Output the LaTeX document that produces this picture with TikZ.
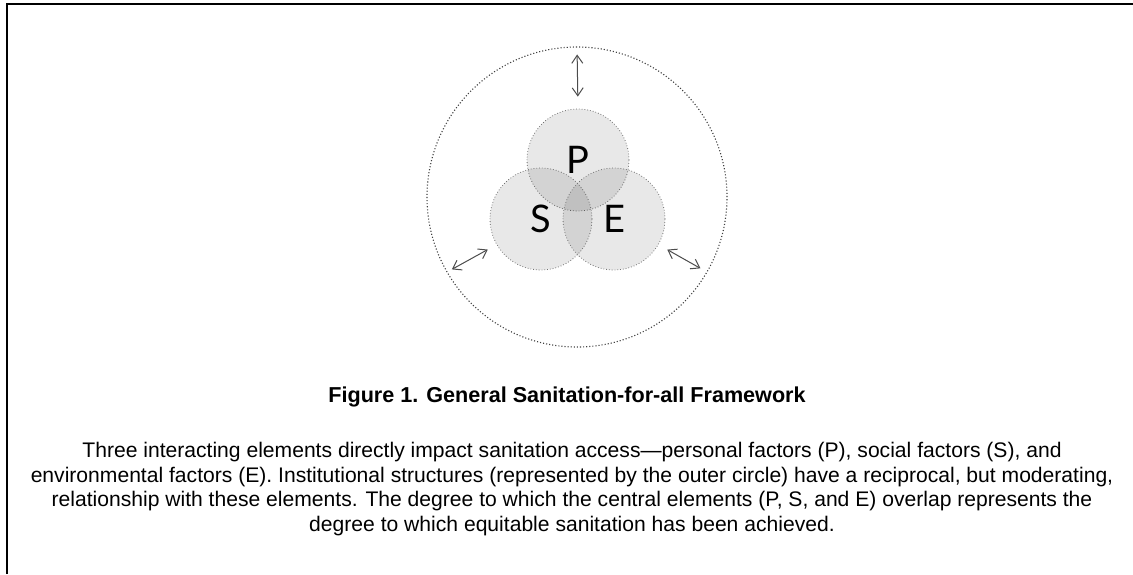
\documentclass[tikz,border=0pt]{standalone}
\usepackage{fontspec}
\setmainfont{Liberation Sans}
\newfontfamily\lettfont{Lato}
\usetikzlibrary{arrows,arrows.meta,shapes,positioning,calc}
\tikzset{
    frame/.style={
        draw=black,
        line width=1pt,
    },
    outer/.style={
        circle,
        draw=black!75,
        densely dotted,
        line width=0.55pt,
        inner sep=0pt,
        minimum size=150pt,
    },
    factor/.style={
        circle,
        draw=black!55,
        densely dotted,
        line width=0.4pt,
        fill=black,
        fill opacity=0.09,
        text opacity=1,
        inner sep=0pt,
        minimum size=51pt,
    },
    letter/.style={
        font=\lettfont\fontsize{19}{22}\selectfont,
        text=black,
    },
    link/.style={
        draw=black!70,
        {Straight Barb[length=4pt,width=5.5pt]}-{Straight Barb[length=4pt,width=5.5pt]},
        line width=0.5pt,
    },
}
\begin{document}
\begin{tikzpicture}[x=0.5pt,y=-0.5pt]
    \useasboundingbox (0,0) rectangle (1133,574);
    \draw [frame] (7,574) -- (7,4) -- (1133,4);
    % the three elements
    \node [outer] (I) at (577,197) {};
    \node [factor] (P) at (578,160) {};
    \node [factor] (S) at (541,219) {};
    \node [factor] (E) at (614,219) {};
    \node [letter] (Pl) at (P) {P};
    \node [letter] (Sl) at (S) {S};
    \node [letter] (El) at (E) {E};
    % reciprocal links
    \draw [link,shorten <=4pt,shorten >=6pt] (I.north) -- (P.north);
    \draw [link,shorten <=3pt,shorten >=5pt] (I.210) -- (S.210);
    \draw [link,shorten <=5pt,shorten >=4pt] (E.330) -- (I.330);
    % caption
    \node [anchor=base,font=\bfseries\fontsize{10.8}{12}\selectfont] (title) at (567,402)
        {Figure 1. General Sanitation-for-all Framework};
    \node [anchor=base,align=center,font=\fontsize{10.55}{12.2}\selectfont] (text) at (572,531)
        {Three interacting elements directly impact sanitation access---personal factors (P), social factors (S), and\\
         environmental factors (E). Institutional structures (represented by the outer circle) have a reciprocal, but moderating,\\
         relationship with these elements. The degree to which the central elements (P, S, and E) overlap represents the\\
         degree to which equitable sanitation has been achieved.};
\end{tikzpicture}
\end{document}
